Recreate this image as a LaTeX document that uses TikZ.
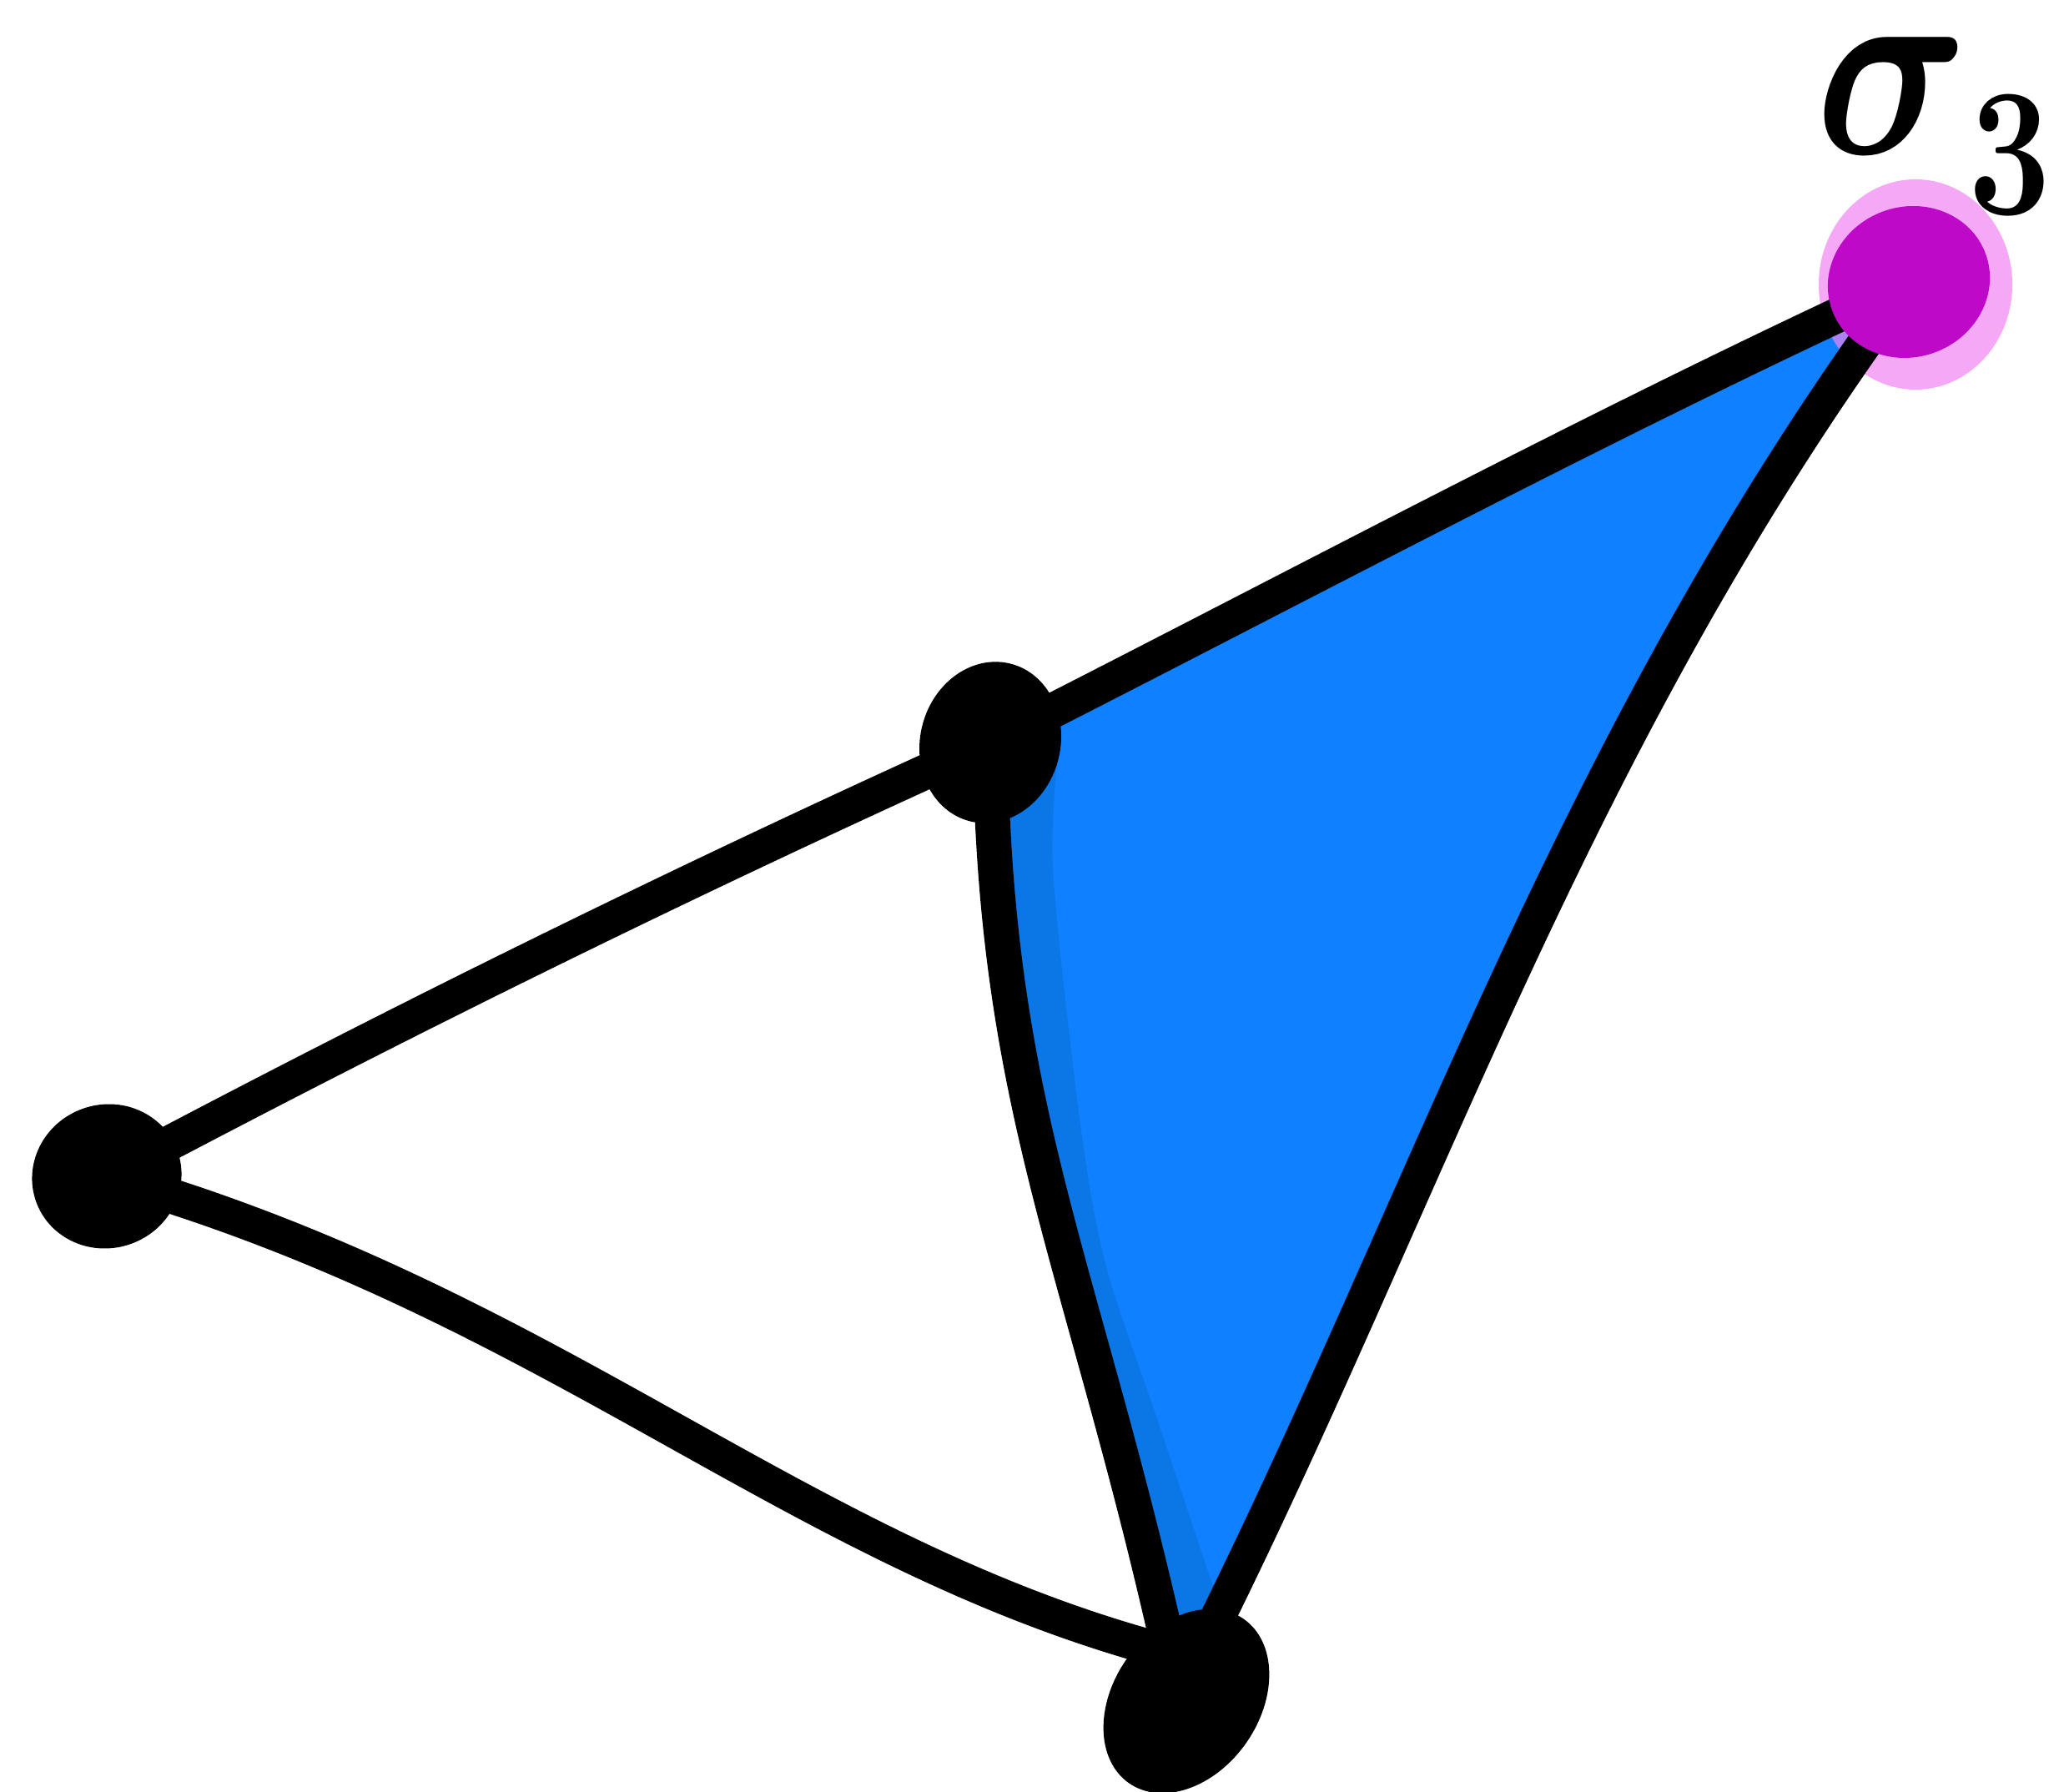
\documentclass[tikz,border=0pt]{standalone}
\usepackage{amsmath,amssymb}
\usepackage{tikz}
\usetikzlibrary{arrows.meta, positioning, calc, shapes.geometric, backgrounds}

\pgfdeclarelayer{edgelayer}
\pgfsetlayers{background,edgelayer,main}

\begin{document}
\begin{tikzpicture}[
    vtx/.style n args={3}{
        ellipse, fill=#1, draw=none, inner sep=0pt,
        minimum width=#2, minimum height=#3
    },
    link/.style={
        draw=black, line width=0.42cm, line cap=round
    },
]

\definecolor{simplex}{RGB}{15,128,255}
\definecolor{simplexdk}{RGB}{11,118,230}
\definecolor{tip}{RGB}{190,10,200}
\definecolor{tipglow}{RGB}{241,131,241}

\useasboundingbox (0,0) rectangle (24.74,21.47);

% ============================================================
% Vertices
% ============================================================

\node[vtx={black}{1.80cm}{1.72cm}, rotate=20] (a) at (1.28,7.37) {};
\node[vtx={black}{1.68cm}{1.95cm}, rotate=-15] (b) at (11.87,12.57) {};
\node[vtx={black}{2.4cm}{1.75cm}, rotate=55] (c) at (14.22,1.08) {};
\node[vtx={tip}{1.96cm}{1.80cm}, rotate=20] (d) at (22.88,18.09) {};

\node[font=\Huge, xscale=2.9, yscale=3.6, inner sep=0pt, anchor=north east] (lbl)
    at (24.66,21.05)
    {$\boldsymbol{\sigma}_{\lower2pt\hbox{$\scriptscriptstyle\mathbf{3}$}}$};

% ============================================================
% Filled 2-simplex and glow
% ============================================================

\begin{pgfonlayer}{background}
\fill[simplex]
    (b.center) .. controls (15.54,14.43) and (19.22,16.41) .. (d.center)
    .. controls (18.88,12.67) and (17.17,7.26) .. ($(c.center)+(0.25,0.75)$)
    -- ($(c.center)+(-0.22,0.67)$)
    .. controls (12.95,6.40) and (11.92,8.20) .. (b.center) -- cycle;
% darker shade along the left side
\fill[simplexdk]
    (b.center) .. controls (11.92,8.20) and (12.95,6.40) .. ($(c.center)+(-0.22,0.67)$)
    -- plot[smooth] coordinates {(14.67,2.06) (13.88,4.43) (13.25,6.32)
        (12.94,8.06) (12.62,11.06) (12.70,12.63)} -- cycle;
\node[vtx={tipglow}{2.32cm}{2.52cm}, opacity=0.7] (glow) at (22.96,18.06) {};
\end{pgfonlayer}

% ============================================================
% Edges
% ============================================================

\begin{pgfonlayer}{edgelayer}
\draw[link] (a.center) .. controls (4.80,9.24) and (8.34,10.98) .. (b.center);
\draw[link] (a.center) .. controls (6.61,5.85) and (9.50,2.87) .. ($(c.center)+(-0.27,0.60)$);
\draw[link] (b.center) .. controls (11.92,8.20) and (12.95,6.40) .. ($(c.center)+(-0.22,0.67)$);
\draw[link] (b.center) .. controls (15.54,14.43) and (19.22,16.41) .. (d.center);
\draw[link] ($(c.center)+(0.25,0.75)$) .. controls (17.17,7.26) and (18.88,12.67) .. (d.center);
\end{pgfonlayer}

\end{tikzpicture}
\end{document}
